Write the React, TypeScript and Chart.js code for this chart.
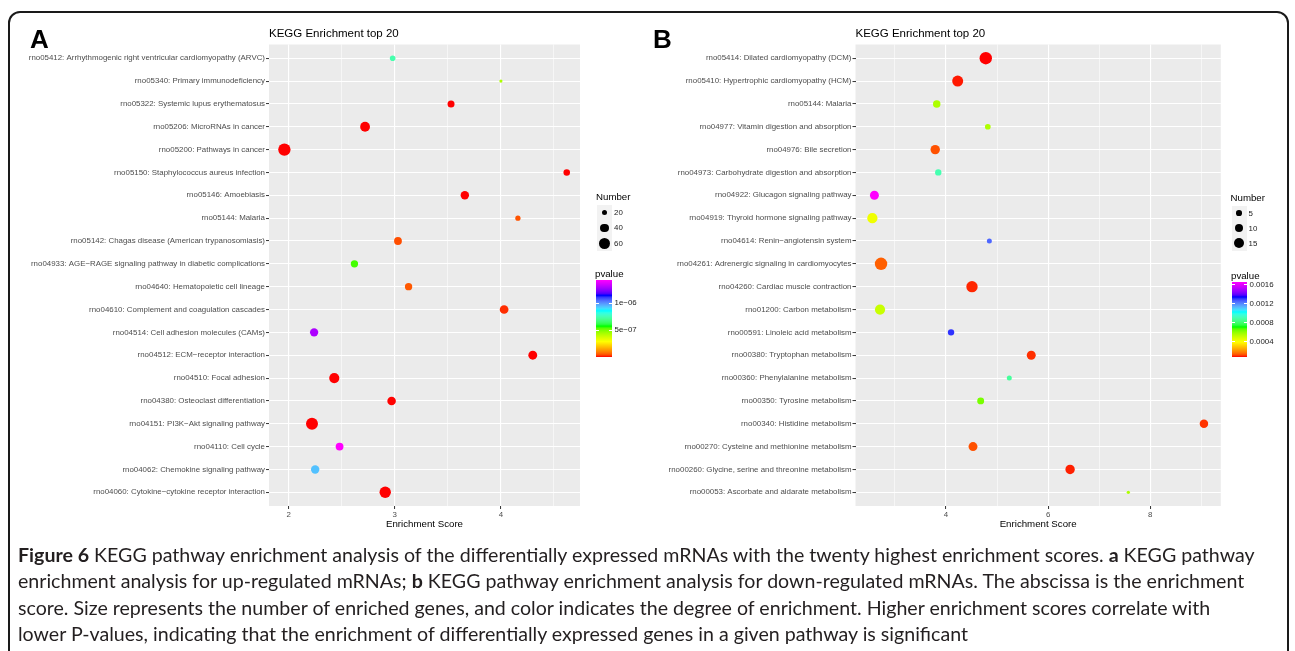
import React, { useEffect, useRef } from 'react';
import { Chart, registerables } from 'chart.js';

Chart.register(...registerables);

// ---------------- Panel A data (up-regulated) ----------------
const labelsA = [
  'rno05412: Arrhythmogenic right ventricular cardiomyopathy (ARVC)',
  'rno05340: Primary immunodeficiency',
  'rno05322: Systemic lupus erythematosus',
  'rno05206: MicroRNAs in cancer',
  'rno05200: Pathways in cancer',
  'rno05150: Staphylococcus aureus infection',
  'rno05146: Amoebiasis',
  'rno05144: Malaria',
  'rno05142: Chagas disease (American trypanosomiasis)',
  'rno04933: AGE\u2212RAGE signaling pathway in diabetic complications',
  'rno04640: Hematopoietic cell lineage',
  'rno04610: Complement and coagulation cascades',
  'rno04514: Cell adhesion molecules (CAMs)',
  'rno04512: ECM\u2212receptor interaction',
  'rno04510: Focal adhesion',
  'rno04380: Osteoclast differentiation',
  'rno04151: PI3K\u2212Akt signaling pathway',
  'rno04110: Cell cycle',
  'rno04062: Chemokine signaling pathway',
  'rno04060: Cytokine\u2212cytokine receptor interaction',
];
const scoreA = [2.98, 4.0, 3.53, 2.72, 1.96, 4.62, 3.66, 4.16, 3.03, 2.62, 3.13, 4.03, 2.24, 4.3, 2.43, 2.97, 2.22, 2.48, 2.25, 2.91];
const numberA = [23, 12, 31, 50, 72, 28, 40, 21, 36, 33, 33, 42, 39, 43, 53, 41, 68, 36, 40, 63];
const pvalueA = [
  7.4e-7, 4.3e-7, 3.1e-12, 2.4e-14, 1.2e-18, 5.5e-11, 8.1e-12, 4.5e-8, 4.0e-8, 5.5e-7,
  5.0e-8, 1.5e-8, 1.29e-6, 3.4e-12, 1.1e-14, 2.7e-10, 4.4e-17, 1.43e-6, 9.4e-7, 6.2e-13,
];
const xMajorA = [2, 3, 4];
const xMinorA = [2.5, 3.5, 4.5];
const xRangeA = [1.815, 4.745];
const sizeLegendA = [20, 40, 60];
const pTicksA = [5e-7, 1e-6];
const pTickLabelsA = ['5e\u221207', '1e\u221206'];

// ---------------- Panel B data (down-regulated) ----------------
const labelsB = [
  'rno05414: Dilated cardiomyopathy (DCM)',
  'rno05410: Hypertrophic cardiomyopathy (HCM)',
  'rno05144: Malaria',
  'rno04977: Vitamin digestion and absorption',
  'rno04976: Bile secretion',
  'rno04973: Carbohydrate digestion and absorption',
  'rno04922: Glucagon signaling pathway',
  'rno04919: Thyroid hormone signaling pathway',
  'rno04614: Renin\u2212angiotensin system',
  'rno04261: Adrenergic signaling in cardiomyocytes',
  'rno04260: Cardiac muscle contraction',
  'rno01200: Carbon metabolism',
  'rno00591: Linoleic acid metabolism',
  'rno00380: Tryptophan metabolism',
  'rno00360: Phenylalanine metabolism',
  'rno00350: Tyrosine metabolism',
  'rno00340: Histidine metabolism',
  'rno00270: Cysteine and methionine metabolism',
  'rno00260: Glycine, serine and threonine metabolism',
  'rno00053: Ascorbate and aldarate metabolism',
];
const scoreB = [4.78, 4.23, 3.82, 4.82, 3.79, 3.85, 2.6, 2.56, 4.85, 2.73, 4.51, 2.71, 4.1, 5.67, 5.24, 4.68, 9.05, 4.53, 6.43, 7.57];
const numberB = [20, 16, 8, 5, 12, 6, 11, 14, 4, 20, 17, 14, 6, 11, 4, 7, 10, 11, 12, 2];
const pvalueB = [
  8.4e-5, 9.0e-5, 5.6e-4, 5.58e-4, 1.31e-4, 9.05e-4, 1.663e-3, 4.31e-4, 1.25e-3, 1.47e-4,
  9.6e-5, 5.1e-4, 1.316e-3, 1.02e-4, 8.74e-4, 6.37e-4, 1.05e-4, 1.31e-4, 9.3e-5, 5.58e-4,
];
const xMajorB = [4, 6, 8];
const xMinorB = [3, 5, 7, 9];
const xRangeB = [2.23, 9.38];
const sizeLegendB = [5, 10, 15];
const pTicksB = [0.0004, 0.0008, 0.0012, 0.0016];
const pTickLabelsB = ['0.0004', '0.0008', '0.0012', '0.0016'];

// ---------------- helpers ----------------
const FONT = '"Liberation Sans", Arial, Helvetica, sans-serif';
const RAINBOW = ['#FF0000', '#FFFF00', '#00FF00', '#00FFFF', '#0000FF', '#FF00FF'];

const toLin = (c: number) => {
  c /= 255;
  return c <= 0.04045 ? c / 12.92 : Math.pow((c + 0.055) / 1.055, 2.4);
};
const fromLin = (c: number) => {
  const v = c <= 0.0031308 ? 12.92 * c : 1.055 * Math.pow(Math.max(c, 0), 1 / 2.4) - 0.055;
  return Math.round(Math.min(1, Math.max(0, v)) * 255);
};
const XN = 0.95047, YN = 1, ZN = 1.08883;
const fLab = (t: number) => (t > 0.008856 ? Math.cbrt(t) : 7.787 * t + 16 / 116);
const fInv = (t: number) => (t > 0.206893 ? t * t * t : (t - 16 / 116) / 7.787);
function hexToLab(hex: string) {
  const r = toLin(parseInt(hex.slice(1, 3), 16));
  const g = toLin(parseInt(hex.slice(3, 5), 16));
  const b = toLin(parseInt(hex.slice(5, 7), 16));
  const x = (0.4124564 * r + 0.3575761 * g + 0.1804375 * b) / XN;
  const y = (0.2126729 * r + 0.7151522 * g + 0.072175 * b) / YN;
  const z = (0.0193339 * r + 0.119192 * g + 0.9503041 * b) / ZN;
  const fx = fLab(x), fy = fLab(y), fz = fLab(z);
  return [116 * fy - 16, 500 * (fx - fy), 200 * (fy - fz)];
}
function labToRgb(L: number, a: number, b: number) {
  const fy = (L + 16) / 116, fx = fy + a / 500, fz = fy - b / 200;
  const x = fInv(fx) * XN, y = fInv(fy) * YN, z = fInv(fz) * ZN;
  const r = 3.2404542 * x - 1.5371385 * y - 0.4985314 * z;
  const g = -0.969266 * x + 1.8760108 * y + 0.041556 * z;
  const bb = 0.0556434 * x - 0.2040259 * y + 1.0572252 * z;
  return `rgb(${fromLin(r)},${fromLin(g)},${fromLin(bb)})`;
}
const RAINBOW_LAB = RAINBOW.map(hexToLab);
function colorAt(f: number) {
  const ff = Math.min(1, Math.max(0, f));
  const seg = ff * (RAINBOW_LAB.length - 1);
  const i = Math.min(RAINBOW_LAB.length - 2, Math.floor(seg));
  const t = seg - i;
  const a = RAINBOW_LAB[i], b = RAINBOW_LAB[i + 1];
  return labToRgb(a[0] + (b[0] - a[0]) * t, a[1] + (b[1] - a[1]) * t, a[2] + (b[2] - a[2]) * t);
}

const radiusA = (n: number) => 0.92 * Math.sqrt(n) - 1.61;
const radiusB = (n: number) => 1.5 * Math.sqrt(n) - 0.5;

const pRangeA = [Math.min(...pvalueA), Math.max(...pvalueA)];
const pRangeB = [Math.min(...pvalueB), Math.max(...pvalueB)];

const panelBg = {
  id: 'panelBg',
  beforeDraw(chart: any) {
    const { ctx, chartArea: a } = chart;
    ctx.save();
    ctx.fillStyle = '#EBEBEB';
    ctx.fillRect(a.left, a.top, a.right - a.left, a.bottom - a.top);
    ctx.restore();
  },
};

type PanelCfg = {
  labels: string[];
  scores: number[];
  numbers: number[];
  pvalues: number[];
  pRange: number[];
  radius: (n: number) => number;
  xMajor: number[];
  xMinor: number[];
  xRange: number[];
  yAxisWidth: number;
  padRight: number;
};

function makeChart(canvas: HTMLCanvasElement, cfg: PanelCfg) {
  const isMajor = (v: number) => cfg.xMajor.includes(v);
  const allX = [...cfg.xMajor, ...cfg.xMinor].sort((a, b) => a - b);
  return new Chart(canvas, {
    type: 'scatter',
    data: {
      datasets: [
        {
          data: cfg.scores.map((x, i) => ({ x, y: i })),
          pointRadius: cfg.numbers.map(cfg.radius),
          pointHoverRadius: cfg.numbers.map(cfg.radius),
          pointBackgroundColor: cfg.pvalues.map((p) => colorAt((p - cfg.pRange[0]) / (cfg.pRange[1] - cfg.pRange[0]))),
          pointBorderWidth: 0,
          pointBorderColor: 'rgba(0,0,0,0)',
        },
      ],
    },
    options: {
      animation: false,
      responsive: false,
      maintainAspectRatio: false,
      events: [],
      layout: { padding: { left: 0, right: cfg.padRight, top: 24.5, bottom: 0 } },
      plugins: { legend: { display: false }, tooltip: { enabled: false }, title: { display: false } },
      scales: {
        x: {
          type: 'linear',
          min: cfg.xRange[0],
          max: cfg.xRange[1],
          bounds: 'data',
          afterBuildTicks: (s: any) => {
            s.ticks = allX.map((v) => ({ value: v }));
          },
          afterFit: (s: any) => {
            s.height = 39;
          },
          border: { display: false },
          grid: {
            color: '#FFFFFF',
            lineWidth: (c: any) => (isMajor(c.tick?.value) ? 1.1 : 0.55),
            tickColor: (c: any) => (isMajor(c.tick?.value) ? '#333333' : 'rgba(0,0,0,0)'),
            tickWidth: 1,
            tickLength: 3,
            drawTicks: true,
          },
          ticks: {
            autoSkip: false,
            maxRotation: 0,
            padding: 1,
            color: '#4D4D4D',
            font: { family: FONT, size: 7.9 },
            callback: (v: any) => (isMajor(Number(v)) ? String(v) : ''),
          },
          title: {
            display: true,
            text: 'Enrichment Score',
            color: '#000000',
            font: { family: FONT, size: 9.7 },
            padding: { top: 0, bottom: 14.5 },
          },
        },
        y: {
          type: 'linear',
          reverse: true,
          min: -0.6,
          max: cfg.labels.length - 0.4,
          bounds: 'data',
          afterBuildTicks: (s: any) => {
            s.ticks = cfg.labels.map((_, i) => ({ value: i }));
          },
          afterFit: (s: any) => {
            s.width = cfg.yAxisWidth;
          },
          border: { display: false },
          grid: {
            color: '#FFFFFF',
            lineWidth: 1.1,
            tickColor: '#333333',
            tickWidth: 1,
            tickLength: 3,
            drawTicks: true,
          },
          ticks: {
            autoSkip: false,
            padding: 1,
            color: '#4D4D4D',
            font: { family: FONT, size: 7.9 },
            callback: (v: any) => cfg.labels[Math.round(Number(v))] ?? '',
          },
        },
      },
    },
    plugins: [panelBg],
  } as any);
}

const abs = (extra: React.CSSProperties): React.CSSProperties => ({
  position: 'absolute',
  whiteSpace: 'nowrap',
  ...extra,
});

function SizeLegend(props: { left: number; top: number; values: number[]; radius: (n: number) => number; rowH: number; keyW: number }) {
  const { left, top, values, radius, rowH, keyW } = props;
  return (
    <>
      <div style={abs({ left: left - 1, top: top - 14, fontSize: 9.7, lineHeight: '12px', color: '#000' })}>Number</div>
      {values.map((v, i) => {
        const r = radius(v);
        return (
          <React.Fragment key={v}>
            <div style={abs({ left, top: top + i * rowH, width: keyW, height: rowH, background: '#F2F2F2' })}>
              <div
                style={abs({
                  left: keyW / 2 - r,
                  top: rowH / 2 - r,
                  width: 2 * r,
                  height: 2 * r,
                  borderRadius: '50%',
                  background: '#000',
                })}
              />
            </div>
            <div style={abs({ left: left + keyW + 2, top: top + i * rowH, fontSize: 7.9, lineHeight: rowH + 'px', color: '#222' })}>{v}</div>
          </React.Fragment>
        );
      })}
    </>
  );
}

function ColorBar(props: { left: number; top: number; width: number; height: number; range: number[]; ticks: number[]; labels: string[] }) {
  const { left, top, width, height, range, ticks, labels } = props;
  const n = 40;
  const stops = Array.from({ length: n + 1 }, (_, i) => `${colorAt(i / n)} ${((i / n) * 100).toFixed(2)}%`).join(', ');
  return (
    <>
      <div style={abs({ left: left - 1, top: top - 12, fontSize: 9.7, lineHeight: '12px', color: '#000' })}>pvalue</div>
      <div style={abs({ left, top, width, height, background: `linear-gradient(to top, ${stops})` })} />
      {ticks.map((t, i) => {
        const y = top + height - ((t - range[0]) / (range[1] - range[0])) * height;
        return (
          <React.Fragment key={i}>
            <div style={abs({ left, top: y - 0.5, width: width / 5, height: 1, background: '#FFF' })} />
            <div style={abs({ left: left + width - width / 5, top: y - 0.5, width: width / 5, height: 1, background: '#FFF' })} />
            <div style={abs({ left: left + width + 2.5, top: y - 5, fontSize: 7.9, lineHeight: '10px', color: '#222' })}>{labels[i]}</div>
          </React.Fragment>
        );
      })}
    </>
  );
}

export default function App() {
  const refA = useRef<HTMLCanvasElement>(null);
  const refB = useRef<HTMLCanvasElement>(null);

  useEffect(() => {
    const a = makeChart(refA.current as HTMLCanvasElement, {
      labels: labelsA,
      scores: scoreA,
      numbers: numberA,
      pvalues: pvalueA,
      pRange: pRangeA,
      radius: radiusA,
      xMajor: xMajorA,
      xMinor: xMinorA,
      xRange: xRangeA,
      yAxisWidth: 269,
      padRight: 60,
    });
    const b = makeChart(refB.current as HTMLCanvasElement, {
      labels: labelsB,
      scores: scoreB,
      numbers: numberB,
      pvalues: pvalueB,
      pRange: pRangeB,
      radius: radiusB,
      xMajor: xMajorB,
      xMinor: xMinorB,
      xRange: xRangeB,
      yAxisWidth: 215.5,
      padRight: 59.2,
    });
    return () => {
      a.destroy();
      b.destroy();
    };
  }, []);

  return (
    <div
      style={{
        position: 'fixed',
        left: 0,
        top: 0,
        width: 1295,
        height: 651,
        overflow: 'hidden',
        background: '#FFFFFF',
        fontFamily: FONT,
      }}
    >
      <div
        style={{
          position: 'absolute',
          left: 8,
          top: 11,
          width: 1281,
          height: 670,
          boxSizing: 'border-box',
          border: '2px solid #1a1a1a',
          borderRadius: 12,
        }}
      />
      <canvas ref={refA} width={640} height={525} style={{ position: 'absolute', left: 0, top: 20, width: 640, height: 525 }} />
      <canvas ref={refB} width={640} height={525} style={{ position: 'absolute', left: 640, top: 20, width: 640, height: 525 }} />

      <div style={abs({ left: 30, top: 25.5, fontSize: 26, fontWeight: 'bold', lineHeight: 1, color: '#000' })}>A</div>
      <div style={abs({ left: 653, top: 25.5, fontSize: 26, fontWeight: 'bold', lineHeight: 1, color: '#000' })}>B</div>
      <div style={abs({ left: 269, top: 28.3, fontSize: 11.5, lineHeight: 1, color: '#000' })}>KEGG Enrichment top 20</div>
      <div style={abs({ left: 855.5, top: 28.3, fontSize: 11.5, lineHeight: 1, color: '#000' })}>KEGG Enrichment top 20</div>

      <SizeLegend left={597} top={204.5} values={sizeLegendA} radius={radiusA} rowH={15.5} keyW={15} />
      <ColorBar left={596} top={280} width={16} height={77} range={pRangeA} ticks={pTicksA} labels={pTickLabelsA} />

      <SizeLegend left={1231.5} top={205.5} values={sizeLegendB} radius={radiusB} rowH={15} keyW={15} />
      <ColorBar left={1232} top={282} width={15} height={75} range={pRangeB} ticks={pTicksB} labels={pTickLabelsB} />

      <div
        style={abs({
          left: 18,
          top: 542,
          fontFamily: 'Lato, "Open Sans", sans-serif',
          fontSize: 19.6,
          lineHeight: '26.4px',
          color: '#231F20',
        })}
      >
        <div>
          <b>Figure 6</b> KEGG pathway enrichment analysis of the differentially expressed mRNAs with the twenty highest enrichment scores. <b>a</b> KEGG pathway
        </div>
        <div>
          enrichment analysis for up-regulated mRNAs; <b>b</b> KEGG pathway enrichment analysis for down-regulated mRNAs. The abscissa is the enrichment
        </div>
        <div>
          score. Size represents the number of enriched genes, and color indicates the degree of enrichment. Higher enrichment scores correlate with
        </div>
        <div>lower P-values, indicating that the enrichment of differentially expressed genes in a given pathway is significant</div>
      </div>
    </div>
  );
}
